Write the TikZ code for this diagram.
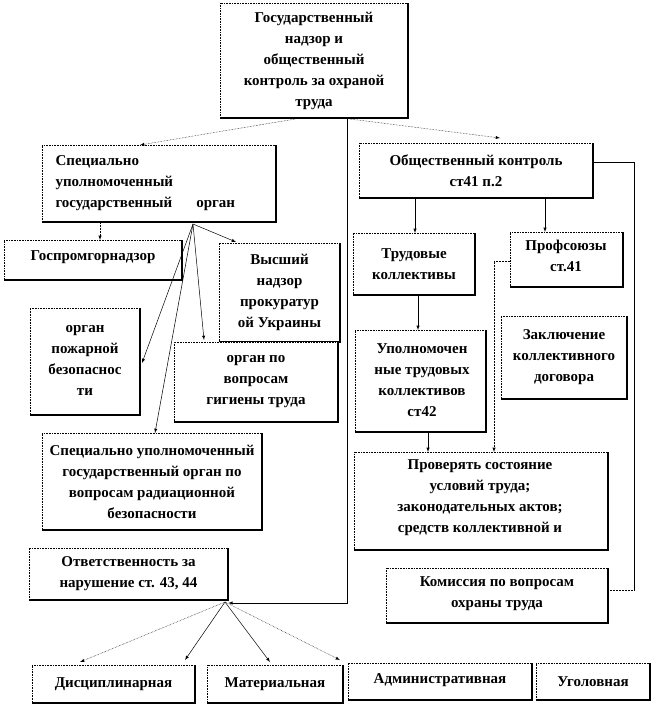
\documentclass[tikz,border=0pt]{standalone}
\usepackage{fontspec}
\setmainfont{Liberation Serif}
\begin{document}
\begin{tikzpicture}[x=1pt,y=-1pt,
  bx/.style={draw,densely dotted,line width=0.6pt,font=\bfseries\fontsize{15}{21}\selectfont,align=center,inner sep=0pt},
  ar/.style={-latex,densely dotted,line width=0.5pt},
  ln/.style={line width=0.5pt}]
\useasboundingbox (0,0) rectangle (656,705);
\newcommand{\B}[6]{%
 \node[bx,minimum width=#3-#1,minimum height=#4-#2,text width=#3-#1-8,#6] (#5) at ({(#1+#3)/2},{(#2+#4)/2}) {};
 \draw[line width=1.4pt] (#3,#2) -- (#3,#4) -- (#1,#4);}
\B{220}{3}{408}{118}{top}{}
\node[font=\bfseries\fontsize{15}{21}\selectfont,align=center] at (top) {Государственный\\надзор и\\общественный\\контроль за охраной\\труда};
\B{42}{145}{276}{222}{spec}{}
\node[font=\bfseries\fontsize{15}{21}\selectfont,align=left,anchor=west] at (52,183) {Специально\\уполномоченный\\государственный\hspace{1.6em}орган};
\B{4}{240}{182}{280}{gos}{}
\node[font=\bfseries\fontsize{15}{21}\selectfont] at (93,257) {Госпромгорнадзор};
\B{219}{243}{340}{342}{vys}{}
\node[font=\bfseries\fontsize{15}{21}\selectfont,align=center] at (vys) {Высший\\надзор\\прокуратур\\ой Украины};
\B{30}{308}{140}{415}{poz}{}
\node[font=\bfseries\fontsize{15}{21}\selectfont,align=center] at (85,360) {орган\\пожарной\\безопаснос\\ти};
\B{174}{342}{338}{422}{gig}{fill=white}
\node[font=\bfseries\fontsize{15}{21}\selectfont,align=center] at (gig) {орган по\\вопросам\\гигиены труда};
\B{42}{433}{262}{530}{rad}{}
\node[font=\bfseries\fontsize{15}{21}\selectfont,align=center] at (rad) {Специально уполномоченный\\государственный орган по\\вопросам радиационной\\безопасности};
\B{29}{548}{228}{600}{otv}{}
\node[font=\bfseries\fontsize{15}{21}\selectfont,align=center] at (otv) {Ответственность за\\нарушение ст. 43, 44};
\B{359}{143}{593}{198}{obs}{}
\node[font=\bfseries\fontsize{15}{21}\selectfont,align=center] at (obs) {Общественный контроль\\ст41 п.2};
\B{353}{233}{475}{295}{trd}{}
\node[font=\bfseries\fontsize{15}{21}\selectfont,align=center] at (trd) {Трудовые\\коллективы};
\B{510}{232}{623}{287}{prf}{}
\node[font=\bfseries\fontsize{15}{21}\selectfont,align=center] at (566,256) {Профсоюзы\\ст.41};
\B{355}{330}{486}{432}{upl}{}
\node[font=\bfseries\fontsize{15}{21}\selectfont,align=center] at (422,380) {Уполномочен\\ные трудовых\\коллективов\\ст42};
\B{501}{316}{627}{399}{zak}{}
\node[font=\bfseries\fontsize{15}{21}\selectfont,align=center] at (zak) {Заключение\\коллективного\\договора};
\B{354}{452}{608}{550}{prv}{}
\node[font=\bfseries\fontsize{15}{21}\selectfont,align=center] at (480,498) {Проверять состояние\\условий труда;\\законодательных актов;\\средств коллективной и};
\B{386}{568}{608}{623}{kom}{}
\node[font=\bfseries\fontsize{15}{21}\selectfont,align=center] at (497,594) {Комиссия по вопросам\\охраны труда};
\B{32}{665}{195}{703}{dis}{}
\node[font=\bfseries\fontsize{15}{21}\selectfont] at (dis) {Дисциплинарная};
\B{207}{665}{343}{703}{mat}{}
\node[font=\bfseries\fontsize{15}{21}\selectfont] at (mat) {Материальная};
\B{348}{663}{532}{700}{adm}{}
\node[font=\bfseries\fontsize{15}{21}\selectfont] at (440,680) {Административная};
\B{536}{663}{650}{700}{ugo}{}
\node[font=\bfseries\fontsize{15}{21}\selectfont] at (ugo) {Уголовная};
% connectors
\coordinate (tb) at (top.south);
\draw[ar] (295,119) -- (140,145);
\draw[ar] (350,119) -- (500,138);
\draw[ln,-latex] (347,118) -- (347,603) -- (otv.east|-0,603);
\draw[ar] (100,223) -- (100,240);
\draw[ln,-latex] (193,224) -- (236,242);
\draw[ln,-latex] (193,224) -- (204,340);
\draw[ln,-latex] (193,224) -- (142,363);
\draw[ln,-latex] (193,224) -- (155,433);
\draw[ln,-latex] (415,198) -- (415,233);
\draw[ln,-latex] (545,198) -- (545,232);
\draw[ln,-latex] (418,295) -- (418,330);
\draw[ln,-latex] (428,432) -- (428,452);
\draw[ar] (prf.west|-0,261) -- (494,261) -- (494,452);
\draw[ln] (obs.east|-0,162) -- (634,162) -- (634,590);
\draw[ln,densely dotted] (634,590) -- (kom.east|-0,590);
\draw[ar] (225,602) -- (80,662);
\draw[ln,-latex] (225,602) -- (185,660);
\draw[ln,-latex] (225,602) -- (270,662);
\draw[ar] (225,602) -- (340,660);
\end{tikzpicture}
\end{document}
